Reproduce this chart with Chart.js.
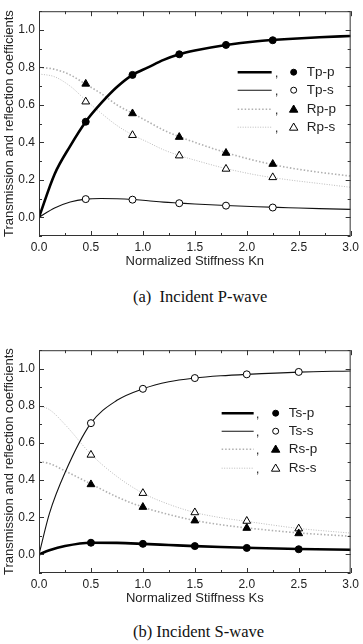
<!DOCTYPE html>
<html>
<head>
<meta charset="utf-8">
<script src="https://cdn.jsdelivr.net/npm/chart.js@4.4.0/dist/chart.umd.min.js"></script>
<style>
  body { margin: 0; background: #fff; width: 363px; height: 644px; position: relative; overflow: hidden; }
  canvas { position: absolute; left: 0; }
  .cap { position: absolute; font-family: "Liberation Serif", "DejaVu Serif", serif; font-size: 16.5px; line-height: 20px; color: #111; white-space: pre; }
</style>
</head>
<body>
<canvas id="chartA" width="363" height="272" style="top:0px"></canvas>
<div class="cap" style="left:133px; top:287px">(a)  Incident P-wave</div>
<canvas id="chartB" width="363" height="270" style="top:339px"></canvas>
<div class="cap" style="left:133px; top:622px">(b) Incident S-wave</div>
<script>
// (a) incident P-wave : curves
const knCurve  = [0, 0.15, 0.3, 0.45, 0.6, 0.75, 0.9, 1.05, 1.2, 1.35, 1.5, 1.8, 2.1, 2.4, 2.7, 3.0];
const tppCurve = [0, 0.23, 0.38, 0.51, 0.61, 0.695, 0.76, 0.80, 0.84, 0.87, 0.89, 0.92, 0.94, 0.952, 0.961, 0.968];
const tpsCurve = [0, 0.05, 0.082, 0.097, 0.1, 0.099, 0.095, 0.088, 0.081, 0.076, 0.071, 0.063, 0.056, 0.051, 0.046, 0.042];
const rppCurve = [0.80, 0.79, 0.76, 0.71, 0.66, 0.60, 0.555, 0.51, 0.465, 0.43, 0.40, 0.345, 0.30, 0.265, 0.24, 0.22];
const rpsCurve = [0.765, 0.75, 0.70, 0.625, 0.555, 0.49, 0.44, 0.40, 0.36, 0.33, 0.305, 0.26, 0.225, 0.20, 0.18, 0.16];
// (a) symbols
const knPts  = [0.45, 0.9, 1.35, 1.8, 2.25];
const tppPts = [0.51, 0.76, 0.87, 0.92, 0.945];
const tpsPts = [0.097, 0.094, 0.075, 0.062, 0.052];
const rppPts = [0.712, 0.554, 0.428, 0.343, 0.284];
const rpsPts = [0.617, 0.438, 0.329, 0.258, 0.213];

// (b) incident S-wave : curves
const ksCurve  = [0, 0.1, 0.25, 0.5, 0.75, 1.0, 1.25, 1.5, 1.75, 2.0, 2.5, 3.0];
const tspCurve = [0, 0.022, 0.045, 0.063, 0.062, 0.057, 0.051, 0.045, 0.040, 0.036, 0.029, 0.025];
const tssCurve = [0, 0.22, 0.44, 0.707, 0.83, 0.892, 0.93, 0.95, 0.962, 0.97, 0.982, 0.988];
const rspCurve = [0.50, 0.49, 0.45, 0.38, 0.31, 0.255, 0.215, 0.183, 0.16, 0.143, 0.116, 0.098];
const rssCurve = [0.80, 0.78, 0.70, 0.54, 0.42, 0.33, 0.27, 0.226, 0.198, 0.178, 0.14, 0.115];
// (b) symbols
const ksPts  = [0.5, 1.0, 1.5, 2.0, 2.5];
const tspPts = [0.063, 0.057, 0.045, 0.035, 0.028];
const tssPts = [0.707, 0.892, 0.95, 0.97, 0.983];
const rspPts = [0.377, 0.255, 0.182, 0.142, 0.113];
const rssPts = [0.536, 0.33, 0.226, 0.18, 0.139];

const xTicks = [0, 0.5, 1.0, 1.5, 2.0, 2.5, 3.0];
const yTicks = [0, 0.2, 0.4, 0.6, 0.8, 1.0];

const FONT = '"Liberation Sans", Arial, sans-serif';
const INK = '#222';

function pts(xs, ys) {
  return xs.map((x, i) => ({ x: x, y: ys[i] }));
}

// line styles for the four series (thick, thin, dotted, fine dotted)
const styles = [
  { width: 2.6, color: '#000', dash: [], fill: '#000', shape: 'circle', r: 3.5 },
  { width: 1.1, color: '#111', dash: [], fill: '#fff', shape: 'circle', r: 3.5 },
  { width: 1.6, color: '#b0b0b0', dash: [1.5, 2], fill: '#000', shape: 'triangle', r: 4.5 },
  { width: 1.0, color: '#bcbcbc', dash: [1, 1.5], fill: '#fff', shape: 'triangle', r: 4.5 }
];

function buildDatasets(xc, curves, xp, marks) {
  const sets = [];
  // symbols first so they are drawn on top
  marks.forEach((m, i) => {
    const s = styles[i];
    sets.push({
      data: pts(xp, m), showLine: false,
      pointStyle: s.shape, pointRadius: s.r,
      pointBackgroundColor: s.fill, pointBorderColor: '#000', pointBorderWidth: 1
    });
  });
  curves.forEach((c, i) => {
    const s = styles[i];
    sets.push({
      data: pts(xc, c), showLine: true, pointRadius: 0,
      borderColor: s.color, borderWidth: s.width, borderDash: s.dash,
      cubicInterpolationMode: 'monotone', fill: false
    });
  });
  return sets;
}

const framePlugin = {
  id: 'frame',
  afterDatasetsDraw(chart) {
    const ctx = chart.ctx;
    const a = chart.chartArea;
    const xs = chart.scales.x, ys = chart.scales.y;
    ctx.save();
    ctx.strokeStyle = '#333';
    ctx.lineWidth = 1;
    ctx.strokeRect(a.left + 0.5, a.top + 0.5, a.right - a.left - 1, a.bottom - a.top - 1);
    ctx.beginPath();
    for (let k = 0; k <= 12; k++) {
      const v = k * 0.25;
      const px = Math.round(xs.getPixelForValue(v)) + 0.5;
      const len = k % 2 === 0 ? 5 : 3;
      ctx.moveTo(px, a.bottom); ctx.lineTo(px, a.bottom - len);
      ctx.moveTo(px, a.top); ctx.lineTo(px, a.top + len);
    }
    for (let k = -1; k <= 11; k++) {
      const v = k * 0.1;
      const py = Math.round(ys.getPixelForValue(v)) + 0.5;
      const len = (k >= 0 && k % 2 === 0) ? 5 : 3;
      ctx.moveTo(a.left, py); ctx.lineTo(a.left + len, py);
      ctx.moveTo(a.right, py); ctx.lineTo(a.right - len, py);
    }
    ctx.stroke();
    ctx.restore();
  }
};

const keyPlugin = {
  id: 'keyBox',
  afterDraw(chart, args, opts) {
    const ctx = chart.ctx;
    const a = chart.chartArea;
    ctx.save();
    opts.labels.forEach((label, i) => {
      const s = styles[i];
      const y = a.top + opts.rows[i];
      ctx.beginPath();
      ctx.strokeStyle = s.color;
      ctx.lineWidth = s.width;
      ctx.setLineDash(s.dash);
      ctx.moveTo(a.right + opts.lineFrom, y);
      ctx.lineTo(a.right + opts.lineTo, y);
      ctx.stroke();
      ctx.setLineDash([]);
      ctx.fillStyle = INK;
      ctx.font = '12px ' + FONT;
      ctx.textBaseline = 'middle';
      ctx.textAlign = 'center';
      ctx.fillText(',', a.right + opts.comma, y + 1);
      // symbol
      ctx.lineWidth = 1;
      ctx.strokeStyle = '#000';
      ctx.fillStyle = s.fill;
      const mx = a.right + opts.mark;
      ctx.beginPath();
      if (s.shape === 'circle') {
        ctx.arc(mx, y, 3, 0, Math.PI * 2);
      } else {
        ctx.moveTo(mx, y - 4.2);
        ctx.lineTo(mx + 4.2, y + 3);
        ctx.lineTo(mx - 4.2, y + 3);
        ctx.closePath();
      }
      ctx.fill();
      ctx.stroke();
      ctx.fillStyle = INK;
      ctx.font = '13.5px ' + FONT;
      ctx.textAlign = 'left';
      ctx.fillText(label, a.right + opts.text, y);
    });
    ctx.restore();
  }
};

function makeChart(id, datasets, xTitle, key) {
  return new Chart(document.getElementById(id), {
    type: 'scatter',
    data: { datasets: datasets },
    options: {
      responsive: false,
      animation: false,
      devicePixelRatio: 1,
      layout: { padding: { top: 4, right: 11, left: 0, bottom: 0 } },
      plugins: { legend: { display: false }, tooltip: { enabled: false }, keyBox: key },
      scales: {
        x: {
          type: 'linear', min: 0, max: 3,
          grid: { display: false, drawTicks: false },
          border: { display: false },
          afterBuildTicks: s => { s.ticks = xTicks.map(v => ({ value: v })); },
          afterFit: s => { s.height = 36; },
          ticks: { padding: 4, color: INK, font: { family: FONT, size: 12 }, maxRotation: 0,
                   callback: v => Number(v).toFixed(1) },
          title: { display: true, text: xTitle, color: INK, font: { family: FONT, size: 13 },
                   padding: { top: 2, bottom: 3 } }
        },
        y: {
          type: 'linear', min: -0.1, max: 1.1,
          grid: { display: false, drawTicks: false },
          border: { display: false },
          afterBuildTicks: s => { s.ticks = yTicks.map(v => ({ value: v })); },
          afterFit: s => { s.width = 39; },
          ticks: { padding: 4, color: INK, font: { family: FONT, size: 12 },
                   callback: v => Number(v).toFixed(1) },
          title: { display: true, text: 'Transmission and reflection coefficients', color: INK,
                   font: { family: FONT, size: 13 }, padding: { top: 2, bottom: 2 } }
        }
      }
    },
    plugins: [framePlugin, keyPlugin]
  });
}

makeChart('chartA',
  buildDatasets(knCurve, [tppCurve, tpsCurve, rppCurve, rpsCurve], knPts, [tppPts, tpsPts, rppPts, rpsPts]),
  'Normalized Stiffness Kn',
  { labels: ['Tp-p', 'Tp-s', 'Rp-p', 'Rp-s'], rows: [61, 79, 98, 116],
    lineFrom: -113, lineTo: -79, comma: -74, mark: -57, text: -44 });

makeChart('chartB',
  buildDatasets(ksCurve, [tspCurve, tssCurve, rspCurve, rssCurve], ksPts, [tspPts, tssPts, rspPts, rssPts]),
  'Normalized Stiffness Ks',
  { labels: ['Ts-p', 'Ts-s', 'Rs-p', 'Rs-s'], rows: [63, 81, 99, 118],
    lineFrom: -129, lineTo: -97, comma: -93, mark: -75, text: -62 });
</script>
</body>
</html>
